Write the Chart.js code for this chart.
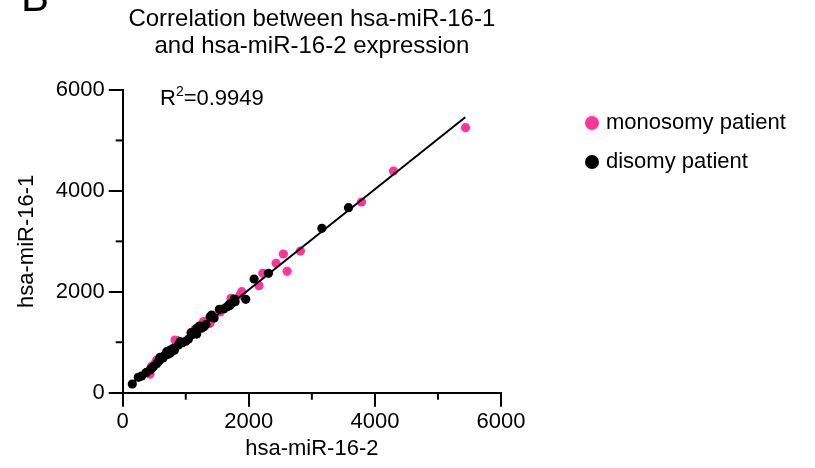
<!DOCTYPE html>
<html><head><meta charset="utf-8">
<script src="https://cdn.jsdelivr.net/npm/chart.js@4/dist/chart.umd.min.js"></script>
<style>html,body{margin:0;padding:0;background:#fff}#wrap{width:815px;height:468px;position:relative}</style>
</head><body><div id="wrap"><canvas id="c" width="815" height="468"></canvas></div>
<script>
const monoX = [5438, 4295, 3788, 2819, 2549, 2433, 2608, 2222, 2163, 1889, 1862, 1719, 1544, 1386, 1280, 1148, 867, 830, 540, 513, 454, 375, 433];
const monoY = [5253, 4394, 3780, 2808, 2749, 2565, 2406, 2366, 2121, 2002, 1936, 1871, 1600, 1375, 1407, 1256, 1031, 1044, 648, 582, 515, 396, 370];
const disoX = [3581, 3159, 2311, 2084, 1952, 1783, 1771, 1730, 1693, 1533, 1412, 1386, 1290, 1216, 1174, 1174, 1084, 1041, 909, 883, 803, 751, 698, 671, 620, 592, 565, 540, 486, 433, 370, 300, 248, 152, 1000, 760, 720, 1250, 1650, 820, 460, 1100, 1320, 1450, 1600, 1700, 950, 1150, 640, 580];
const disoY = [3667, 3258, 2366, 2254, 1851, 1804, 1857, 1772, 1752, 1653, 1540, 1506, 1308, 1322, 1276, 1163, 1189, 1058, 1011, 945, 880, 846, 813, 747, 700, 702, 614, 575, 516, 450, 396, 330, 305, 172, 1020, 790, 760, 1280, 1700, 840, 480, 1150, 1350, 1480, 1660, 1730, 990, 1200, 690, 640];
const fitX = [148, 5433];
const fitY = [198, 5459];
const xTicks = [0, 2000, 4000, 6000];
const yTicks = [0, 2000, 4000, 6000];
const minorTicks = [1000, 3000, 5000];
const seriesNames = ['monosomy patient', 'disomy patient'];
const titleLines = ['Correlation between hsa-miR-16-1', 'and hsa-miR-16-2 expression'];
const xTitle = 'hsa-miR-16-2';
const yTitle = 'hsa-miR-16-1';
const r2 = '0.9949';

const PINK = '#FF3399';
const FONT = '"Liberation Sans", Arial, sans-serif';
const pts = (xs, ys) => xs.map((x, i) => ({x, y: ys[i]}));

const deco = {
  id: 'deco',
  afterDraw(chart) {
    const ctx = chart.ctx, ca = chart.chartArea;
    const xs = chart.scales.x, ys = chart.scales.y;
    ctx.save();
    ctx.strokeStyle = '#000'; ctx.lineWidth = 2;
    minorTicks.forEach(v => {
      const px = xs.getPixelForValue(v);
      ctx.beginPath(); ctx.moveTo(px, ca.bottom); ctx.lineTo(px, ca.bottom + 7); ctx.stroke();
      const py = ys.getPixelForValue(v);
      ctx.beginPath(); ctx.moveTo(ca.left, py); ctx.lineTo(ca.left - 7, py); ctx.stroke();
    });
    ctx.fillStyle = '#000';
    ctx.font = '42px ' + FONT; ctx.textAlign = 'left'; ctx.textBaseline = 'alphabetic';
    ctx.fillText('B', 21, 11);
    const cx = (ca.left + ca.right) / 2;
    ctx.font = '24px ' + FONT; ctx.textAlign = 'center'; ctx.textBaseline = 'middle';
    ctx.fillText(titleLines[0], cx, 19);
    ctx.fillText(titleLines[1], cx, 46);
    ctx.font = '22px ' + FONT; ctx.textAlign = 'left'; ctx.textBaseline = 'alphabetic';
    let x0 = 160; const base = 105;
    ctx.fillText('R', x0, base); x0 += ctx.measureText('R').width;
    ctx.font = '14px ' + FONT; ctx.fillText('2', x0, base - 9); x0 += ctx.measureText('2').width;
    ctx.font = '22px ' + FONT; ctx.fillText('=' + r2, x0, base);
    ctx.textAlign = 'center'; ctx.textBaseline = 'middle';
    ctx.fillText(xTitle, cx, 449);
    ctx.save(); ctx.translate(27, (ca.top + ca.bottom) / 2); ctx.rotate(-Math.PI / 2);
    ctx.fillText(yTitle, 0, 0); ctx.restore();
    const colors = [PINK, '#000'];
    const ly = [123, 162];
    ctx.textAlign = 'left';
    seriesNames.forEach((n, i) => {
      ctx.fillStyle = colors[i];
      ctx.beginPath(); ctx.arc(592, ly[i], 7, 0, Math.PI * 2); ctx.fill();
      ctx.fillStyle = '#000';
      ctx.fillText(n, 606, ly[i]);
    });
    ctx.restore();
  }
};

const fmt = v => String(v);

new Chart(document.getElementById('c'), {
  type: 'scatter',
  data: {
    datasets: [
      {label: 'fit', type: 'line', data: pts(fitX, fitY), borderColor: '#000', borderWidth: 2, pointRadius: 0, fill: false, order: 0},
      {label: seriesNames[1], data: pts(disoX, disoY), backgroundColor: '#000', borderWidth: 0, pointRadius: 4.6, order: 1},
      {label: seriesNames[0], data: pts(monoX, monoY), backgroundColor: PINK, borderWidth: 0, pointRadius: 4.6, order: 2}
    ]
  },
  options: {
    responsive: false, animation: false, devicePixelRatio: 1,
    layout: {padding: {left: 0, right: 314, top: 90, bottom: 0}},
    plugins: {legend: {display: false}, tooltip: {enabled: false}, title: {display: false}},
    scales: {
      x: {
        type: 'linear', min: 0, max: 6000,
        afterFit: s => { s.height = 75.3; },
        afterBuildTicks: s => { s.ticks = xTicks.map(v => ({value: v})); },
        border: {color: '#000', width: 2},
        grid: {drawOnChartArea: false, drawTicks: true, tickLength: 14, color: '#000', lineWidth: 2},
        ticks: {color: '#000', font: {family: FONT, size: 22}, padding: 2, maxRotation: 0, callback: fmt}
      },
      y: {
        type: 'linear', min: 0, max: 6000,
        afterFit: s => { s.width = 122.7; },
        afterBuildTicks: s => { s.ticks = yTicks.map(v => ({value: v})); },
        border: {color: '#000', width: 2},
        grid: {drawOnChartArea: false, drawTicks: true, tickLength: 14, color: '#000', lineWidth: 2},
        ticks: {color: '#000', font: {family: FONT, size: 22}, padding: 4, callback: fmt}
      }
    }
  },
  plugins: [deco]
});
</script></body></html>
